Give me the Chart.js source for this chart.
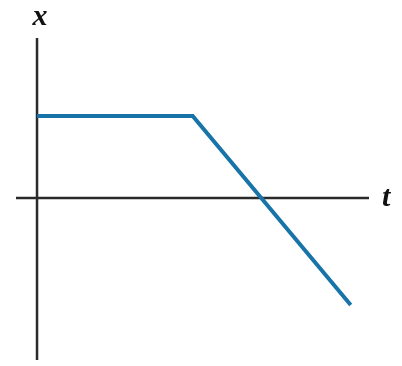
<!DOCTYPE html>
<html>
<head>
<meta charset="utf-8">
<script src="https://cdn.jsdelivr.net/npm/chart.js@4/dist/chart.umd.min.js"></script>
<style>
  html, body { margin: 0; padding: 0; background: #fff; }
  #wrap { width: 402px; height: 366px; }
</style>
</head>
<body>
<div id="wrap"><canvas id="xt"></canvas></div>
<script>
// position vs time, arbitrary units
const times = [0, 4, 8.06];
const positions = [2, 2, -2.61];
const tRange = [-0.54, 8.53];
const xRange = [-3.95, 3.9];

// draws the two axes through the origin and the x / t letters
const axesPlugin = {
    id: "axes",
    beforeDatasetsDraw(chart) {
        const ctx = chart.ctx;
        const area = chart.chartArea;
        const x0 = chart.scales.x.getPixelForValue(0);
        const y0 = chart.scales.y.getPixelForValue(0);
        ctx.save();
        ctx.strokeStyle = "#2a2a2a";
        ctx.lineWidth = 2.5;
        ctx.beginPath();
        ctx.moveTo(area.left, y0);
        ctx.lineTo(area.right, y0);
        ctx.moveTo(x0, area.top);
        ctx.lineTo(x0, area.bottom);
        ctx.stroke();

        ctx.fillStyle = "#111";
        ctx.font = "italic 600 30px 'Liberation Serif', 'DejaVu Serif', serif";
        ctx.textAlign = "center";
        ctx.textBaseline = "alphabetic";
        ctx.fillText("x", x0 + 3, area.top - 13);
        ctx.textAlign = "left";
        ctx.fillText("t", area.right + 13, y0 + 8);
        ctx.restore();
    }
};

new Chart(document.getElementById("xt").getContext("2d"), {
    type: "line",
    data: {
        datasets: [{
            data: times.map((t, i) => ({ x: t, y: positions[i] })),
            borderColor: "#1874a8",
            borderWidth: 4,
            borderJoinStyle: "miter",
            borderCapStyle: "butt",
            pointRadius: 0,
            tension: 0,
            fill: false
        }]
    },
    options: {
        responsive: true,
        maintainAspectRatio: false,
        animation: false,
        layout: { padding: { left: 16, right: 33, top: 38, bottom: 6 } },
        plugins: { legend: { display: false }, tooltip: { enabled: false } },
        scales: {
            x: { type: "linear", min: tRange[0], max: tRange[1], display: false },
            y: { type: "linear", min: xRange[0], max: xRange[1], display: false }
        }
    },
    plugins: [axesPlugin]
});
</script>
</body>
</html>
